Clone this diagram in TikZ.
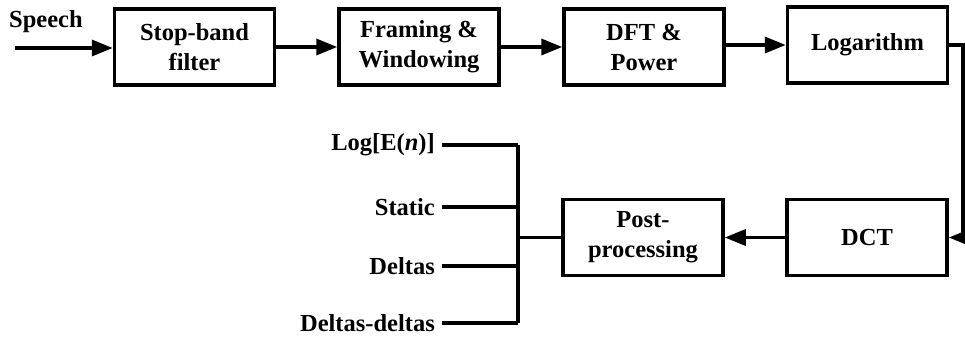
\documentclass[tikz,border=0pt]{standalone}
\usepackage{fontspec}
\setmainfont{Liberation Serif}
\usetikzlibrary{arrows.meta}
\begin{document}
\begin{tikzpicture}[x=1pt,y=-1pt,
  txt/.style={font=\bfseries\fontsize{24.5}{30}\selectfont},
  blk/.style={txt, draw, line width=3.5pt, minimum width=160pt, minimum height=76pt, align=center, inner sep=0pt},
  arr/.style={line width=3.5pt, -{Triangle[length=21pt,width=16pt]}},
  ln/.style={line width=3.5pt},
  lbl/.style={txt, anchor=east, inner sep=0pt}]
\useasboundingbox (0,0) rectangle (965,338);
\node[txt, anchor=west, inner sep=0pt] (sp) at (9,22) {Speech};
\coordinate (s) at (15,48);
\node[blk] (b1) at (194.5,47) {Stop-band\\filter};
\node[blk] (b2) at (419,47) {Framing \&\\Windowing};
\node[blk] (b3) at (644,47) {DFT \&\\Power};
\node[blk] (b4) at (867.5,45) {Logarithm};
\node[blk] (dct) at (867,237.5) {DCT};
\node[blk] (post) at (643,237.5) {Post-\\processing};
\coordinate (turn) at (963,45);
\coordinate (bus) at (518,237.5);
\coordinate (bt) at (518,145);
\coordinate (bb) at (518,323);
\draw[arr] (s) -- (b1.west |- s);
\draw[arr] (b1) -- (b2);
\draw[arr] (b2) -- (b3);
\draw[arr] (b3.east |- b4) -- (b4);
\draw[arr] (b4.east) -- (turn) |- (dct.east);
\draw[arr] (dct) -- (post);
\draw[ln] (post.west) -- (bus);
\draw[ln] (bt) -- (bb);
\node[lbl] (l1) at (435,145) {Log[E(\textit{n})]};
\node[lbl] (l2) at (435,207) {Static};
\node[lbl] (l3) at (435,266) {Deltas};
\node[lbl] (l4) at (435,323) {Deltas-deltas};
\draw[ln, shorten <=7pt] (l1.east) -- (bt);
\draw[ln, shorten <=7pt] (l2.east) -- (l2.east -| bus);
\draw[ln, shorten <=7pt] (l3.east) -- (l3.east -| bus);
\draw[ln, shorten <=7pt] (l4.east) -- (bb);
\end{tikzpicture}
\end{document}
